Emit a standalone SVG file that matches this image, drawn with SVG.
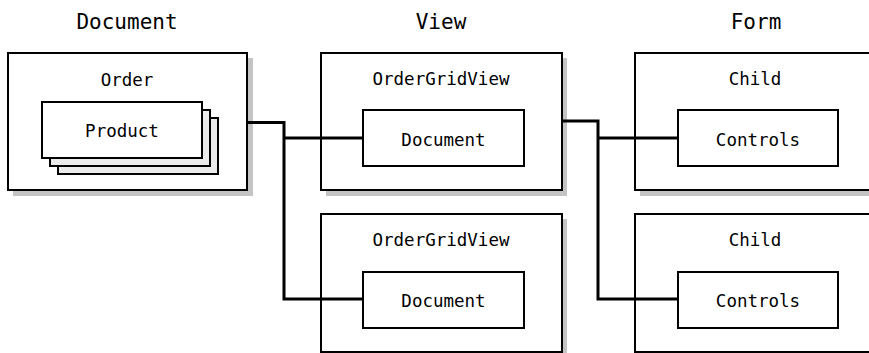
<svg xmlns="http://www.w3.org/2000/svg" width="869" height="353" viewBox="0 0 869 353">
<style>
  .hd { font-family: "DejaVu Sans Mono", "Liberation Mono", monospace; font-size: 21px; fill: #000; text-anchor: middle; }
  .tx { font-family: "DejaVu Sans Mono", "Liberation Mono", monospace; font-size: 17.5px; fill: #000; text-anchor: middle; }
  .box { fill: #fff; stroke: #000; stroke-width: 2; }
  .back { fill: #ebebeb; stroke: #000; stroke-width: 2; }
  .shadow { fill: #c4c4c4; }
  .conn { fill: none; stroke: #000; stroke-width: 3; }
</style>
<rect width="869" height="353" fill="#fff"/>
<g id="headers">
  <text class="hd" x="127" y="29">Document</text>
  <text class="hd" x="441" y="29">View</text>
  <text class="hd" x="756" y="29">Form</text>
</g>
<g id="order">
  <rect class="shadow" x="13" y="58" width="240" height="138"/>
  <rect class="box" x="8" y="53" width="239" height="137"/>
  <text class="tx" x="127" y="86">Order</text>
  <g id="product">
    <rect class="back" x="58" y="118" width="160" height="56"/>
    <rect class="back" x="50" y="110" width="160" height="56"/>
    <rect class="box" x="42" y="102" width="160" height="56"/>
    <text class="tx" x="122" y="137">Product</text>
  </g>
</g>
<g id="view1">
  <rect class="shadow" x="326" y="58" width="241" height="138"/>
  <rect class="box" x="321" y="53" width="241" height="137"/>
  <text class="tx" x="441" y="85">OrderGridView</text>
</g>
<g id="view2">
  <rect class="shadow" x="326" y="219" width="241" height="138"/>
  <rect class="box" x="321" y="214" width="241" height="138"/>
  <text class="tx" x="441" y="246">OrderGridView</text>
</g>
<g id="child1">
  <rect class="shadow" x="640" y="58" width="240" height="138"/>
  <rect class="box" x="635" y="53" width="240" height="137"/>
  <text class="tx" x="755" y="85">Child</text>
</g>
<g id="child2">
  <rect class="shadow" x="640" y="219" width="240" height="138"/>
  <rect class="box" x="635" y="214" width="240" height="138"/>
  <text class="tx" x="755" y="246">Child</text>
</g>
<g id="connectors">
  <polyline class="conn" points="247,122.5 284,122.5 284,299 363,299"/>
  <line class="conn" x1="284" y1="138" x2="363" y2="138"/>
  <polyline class="conn" points="562,121 598,121 598,299 678,299"/>
  <line class="conn" x1="598" y1="138" x2="678" y2="138"/>
</g>
<g id="doc1">
  <rect class="box" x="363" y="110" width="161" height="56"/>
  <text class="tx" x="443.5" y="146">Document</text>
</g>
<g id="doc2">
  <rect class="box" x="363" y="272" width="161" height="56"/>
  <text class="tx" x="443.5" y="307">Document</text>
</g>
<g id="controls1">
  <rect class="box" x="678" y="110" width="160" height="56"/>
  <text class="tx" x="758" y="146">Controls</text>
</g>
<g id="controls2">
  <rect class="box" x="678" y="272" width="160" height="56"/>
  <text class="tx" x="758" y="307">Controls</text>
</g>
</svg>
